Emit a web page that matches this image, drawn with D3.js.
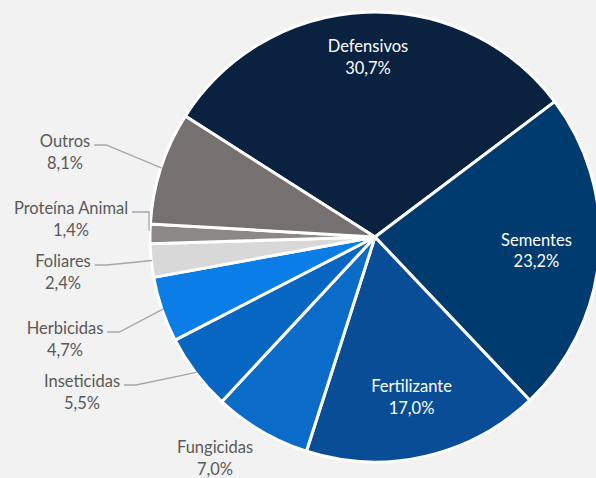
<!DOCTYPE html>
<html>
<head>
<meta charset="utf-8">
<script src="https://cdn.jsdelivr.net/npm/d3@7"></script>
<style>
  body { margin: 0; background: #f2f2f2; }
  svg { display: block; }
</style>
</head>
<body>
<script>
// data
var categories = ["Defensivos", "Sementes", "Fertilizante", "Fungicidas", "Inseticidas", "Herbicidas", "Foliares", "Proteína Animal", "Outros"];
var values = [30.7, 23.2, 17.0, 7.0, 5.5, 4.7, 2.4, 1.4, 8.1];
var colors = ["#0a2240", "#003b6f", "#0a4d97", "#0a6bc9", "#0866c3", "#0a7de6", "#d9d8d8", "#8c8888", "#767171"];

// inside labels: radius factor; outside labels: text centre x, first baseline y, leader line?
var insideLabels = { "Defensivos": 0.8, "Sementes": 0.72, "Fertilizante": 0.73 };
var outsideLabels = {
    "Fungicidas": [215, 453, false],
    "Inseticidas": [82, 387, true],
    "Herbicidas": [65, 334, true],
    "Foliares": [63, 267, true],
    "Proteína Animal": [71, 214, true],
    "Outros": [65, 147, true]
};

var width = 596, height = 478;
var cx = 375, cy = 237, radius = 225;
var start = -57.5 * Math.PI / 180;
var lineGap = 21.5;

var svg = d3.select("body").append("svg")
    .attr("width", width)
    .attr("height", height)
    .style("font-family", "Lato, 'Open Sans', sans-serif")
    .style("font-size", "16.5px");

svg.append("rect").attr("width", width).attr("height", height).attr("fill", "#f2f2f2");

var data = categories.map((c, i) => ({ name: c, value: values[i], color: colors[i] }));

var pie = d3.pie().sort(null).value(d => d.value)
    .startAngle(start).endAngle(start + 2 * Math.PI);
var arcs = pie(data);

var arc = d3.arc().innerRadius(0).outerRadius(radius);

var g = svg.append("g").attr("transform", "translate(" + cx + "," + cy + ")");

g.selectAll("path.slice")
    .data(arcs)
    .enter()
    .append("path")
    .attr("class", "slice")
    .attr("d", arc)
    .attr("fill", d => d.data.color)
    .attr("stroke", "#ffffff")
    .attr("stroke-width", 3)
    .attr("stroke-linejoin", "round");

var fmt = v => v.toFixed(1).replace(".", ",") + "%";

// inside labels
arcs.filter(d => insideLabels[d.data.name]).forEach(d => {
    var r = radius * insideLabels[d.data.name];
    var mid = (d.startAngle + d.endAngle) / 2;
    var x = Math.sin(mid) * r, y = -Math.cos(mid) * r;
    var t = g.append("text")
        .attr("text-anchor", "middle")
        .attr("fill", "#ffffff");
    t.append("tspan").attr("x", x).attr("y", y - 5).text(d.data.name);
    t.append("tspan").attr("x", x).attr("y", y - 5 + lineGap).text(fmt(d.data.value));
});

// outside labels with leader lines
arcs.filter(d => outsideLabels[d.data.name]).forEach(d => {
    var pos = outsideLabels[d.data.name];
    var t = svg.append("text")
        .attr("text-anchor", "middle")
        .attr("fill", "#595959");
    var first = t.append("tspan").attr("x", pos[0]).attr("y", pos[1]).text(d.data.name);
    t.append("tspan").attr("x", pos[0]).attr("y", pos[1] + lineGap).text(fmt(d.data.value));
    if (!pos[2]) return;
    var w = first.node().getComputedTextLength();
    var x0 = pos[0] + w / 2 + 4, y0 = pos[1] - 2;
    var mid = (d.startAngle + d.endAngle) / 2;
    var ex = cx + Math.sin(mid) * (radius - 1), ey = cy - Math.cos(mid) * (radius - 1);
    var pts = [[x0, y0], [x0 + 12, y0], [ex, ey]];
    if (d.data.name === "Proteína Animal") pts = [[x0, y0], [ex - 2, y0], [ex - 2, ey - 3]];
    svg.append("path")
        .attr("d", d3.line()(pts))
        .attr("fill", "none")
        .attr("stroke", "#a6a6a6")
        .attr("stroke-width", 1.3);
});
</script>
</body>
</html>
